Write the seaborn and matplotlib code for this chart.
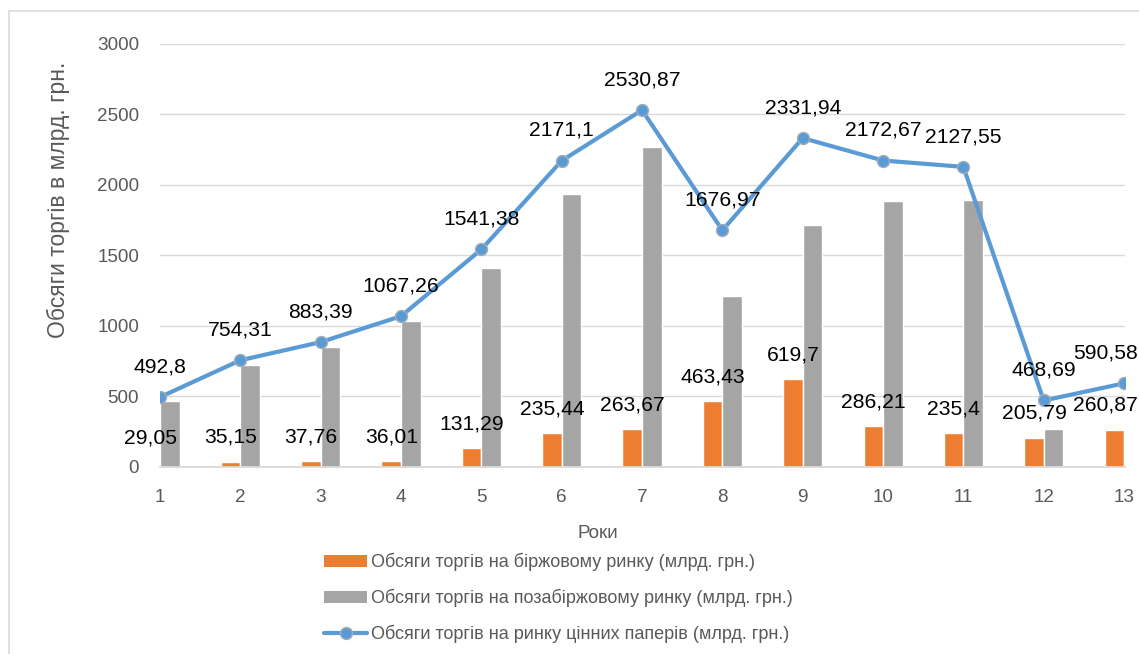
import numpy as np
import pandas as pd
import matplotlib
matplotlib.use("Agg")
import matplotlib.pyplot as plt
import seaborn as sns
from matplotlib.patches import Rectangle, Patch
from matplotlib.lines import Line2D

# ---- data ----
years = list(range(1, 14))
exchange = [29.05, 35.15, 37.76, 36.01, 131.29, 235.44, 263.67, 463.43, 619.7, 286.21, 235.4, 205.79, 260.87]
otc = [463.75, 719.16, 845.63, 1031.25, 1410.09, 1935.66, 2267.2, 1213.54, 1712.24, 1886.46, 1892.15, 262.9, 329.71]
total = [492.8, 754.31, 883.39, 1067.26, 1541.38, 2171.1, 2530.87, 1676.97, 2331.94, 2172.67, 2127.55, 468.69, 590.58]
s_exchange = "Обсяги торгів на біржовому ринку (млрд. грн.)"
s_otc = "Обсяги торгів на позабіржовому ринку (млрд. грн.)"
s_total = "Обсяги торгів на ринку цінних паперів (млрд. грн.)"
y_ticks = [0, 500, 1000, 1500, 2000, 2500, 3000]
x_title = "Роки"
y_title = "Обсяги торгів в млрд. грн."

ORANGE = "#ED7D31"
GRAY = "#A5A5A5"
BLUE = "#5B9BD5"
GRID = "#D9D9D9"
TXT = "#595959"

sns.set_style("white")
plt.rcParams["font.family"] = ["Liberation Sans", "DejaVu Sans"]

W, H = 1139, 654
fig = plt.figure(figsize=(W / 100, H / 100), dpi=100)
ax = fig.add_axes([160 / W, 1 - 466.5 / H, (1125 - 160) / W, (466.5 - 44) / H])

df = pd.DataFrame({
    "year": years * 2,
    "value": exchange + otc,
    "series": [s_exchange] * len(years) + [s_otc] * len(years),
})

sns.barplot(data=df, x="year", y="value", hue="series", hue_order=[s_exchange, s_otc],
            palette=[ORANGE, GRAY], width=0.486, native_scale=True, errorbar=None,
            saturation=1, legend=False, ax=ax, zorder=2)

sns.lineplot(x=years, y=total, color=BLUE, lw=3, marker="o", markersize=8.6,
             markeredgecolor="#A3ADB9", markeredgewidth=1, ax=ax, legend=False, zorder=4)

def fmt(v):
    return str(v).replace(".", ",")

labels = []
# labels on orange bars
for bar, v in zip(ax.containers[0], exchange):
    cx = bar.get_x() + bar.get_width() / 2
    labels.append(ax.annotate(fmt(v), xy=(cx, v), xytext=(0, 17.6), textcoords="offset points",
                              ha="center", va="center", fontsize=15.2, color="black",
                              annotation_clip=False, zorder=6))

# labels on line points
for x, v in zip(years, total):
    labels.append(ax.annotate(fmt(v), xy=(x, v), xytext=(0, 21.8), textcoords="offset points",
                              ha="center", va="center", fontsize=15.2, color="black",
                              annotation_clip=False, zorder=6))

ax.set_xlim(1, 13.012)
ax.set_ylim(0, 3000)
ax.set_yticks(y_ticks)
ax.set_xticks(years)
ax.set_xticklabels([str(y) for y in years])
ax.yaxis.grid(True, color=GRID, lw=1)
ax.set_axisbelow(True)
for s in ["top", "right", "left"]:
    ax.spines[s].set_visible(False)
ax.spines["bottom"].set_color(GRID)
ax.spines["bottom"].set_linewidth(1.3)
ax.tick_params(axis="both", length=0, labelsize=13.6, labelcolor=TXT)
ax.tick_params(axis="x", pad=16.5)
ax.tick_params(axis="y", pad=15)
ax.set_xlabel("")
ax.set_ylabel("")

fig.text(598 / W, 1 - 533 / H, x_title, ha="center", va="center", fontsize=13.6, color=TXT)
fig.text(58 / W, 1 - 200 / H, y_title, ha="center", va="center", rotation=90, fontsize=16.5, color=TXT)

handles = [
    Patch(facecolor=ORANGE, edgecolor="none", label=s_exchange),
    Patch(facecolor=GRAY, edgecolor="none", label=s_otc),
    Line2D([0], [0], color=BLUE, lw=3, marker="o", markersize=8.6,
           markeredgecolor="#A3ADB9", markeredgewidth=1, label=s_total),
]
fig.legend(handles=handles, loc="upper left", bbox_to_anchor=(324 / W, 1 - 553 / H),
           frameon=False, fontsize=13.0, labelcolor=TXT, handlelength=2.4,
           handleheight=0.62, handletextpad=0.18, labelspacing=0.98, borderpad=0,
           borderaxespad=0)

fig.add_artist(Rectangle((9 / W, -0.05), 1.1, 1 - 11 / H + 0.05, transform=fig.transFigure,
                         fill=False, ec=GRID, lw=1.2))

# keep data labels inside the chart area (as the original chart does)
fig.canvas.draw()
renderer = fig.canvas.get_renderer()
for t in labels:
    bb = t.get_window_extent(renderer)
    limit = W - 1
    if bb.x1 > limit:
        dx, dy = t.xyann
        t.xyann = (dx - (bb.x1 - limit) * 72 / 100, dy)

fig.savefig("out.png", dpi=100)
